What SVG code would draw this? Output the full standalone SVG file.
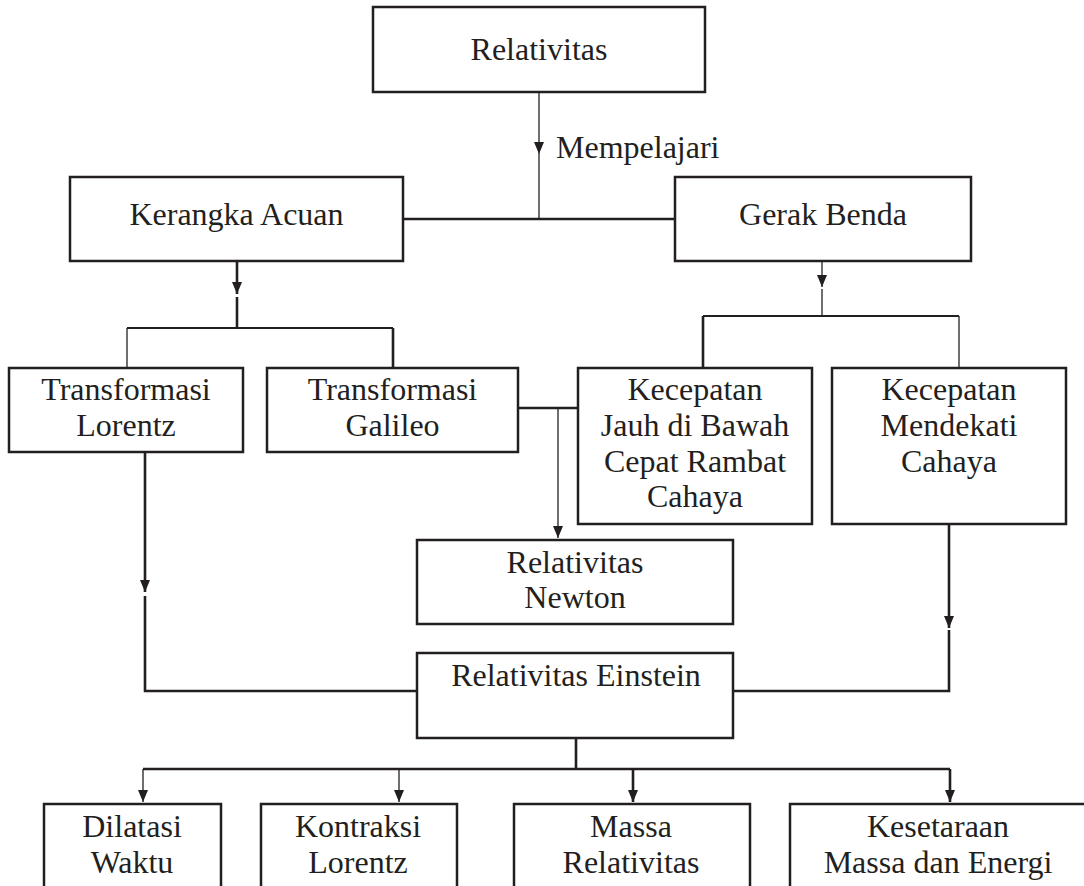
<svg xmlns="http://www.w3.org/2000/svg" width="1084" height="886" viewBox="0 0 1084 886">
<style>
  .box { fill: #ffffff; stroke: #231f20; stroke-width: 2.5; }
  .lbl { font-family: "Liberation Serif", "Times New Roman", serif; font-size: 32px; fill: #231f20; text-anchor: middle; }
  .cap { font-family: "Liberation Serif", "Times New Roman", serif; font-size: 32px; fill: #231f20; }
  .thin { fill: none; stroke: #231f20; stroke-width: 1.3; }
  .thick { fill: none; stroke: #231f20; stroke-width: 2.6; }
</style>
<defs>
  <marker id="arr" markerUnits="userSpaceOnUse" viewBox="0 0 12 10" refX="12" refY="5" markerWidth="12" markerHeight="10" orient="auto">
    <path d="M0,0 L12,5 L0,10 z" fill="#231f20"/>
  </marker>
</defs>
<rect width="1084" height="886" fill="#ffffff"/>

<g id="connectors">
  <!-- Relativitas to Kerangka/Gerak -->
  <path class="thin" d="M539,92 V154" marker-end="url(#arr)"/>
  <path class="thin" d="M539,154 V219"/>
  <text class="cap" x="556" y="158">Mempelajari</text>
  <path class="thick" d="M403,219 H675"/>
  <!-- Kerangka Acuan down -->
  <path class="thick" d="M237,261 V294" marker-end="url(#arr)"/>
  <path class="thick" d="M237,297 V328"/>
  <path class="thin" d="M127,328 H393" style="stroke-width:2"/>
  <path class="thin" d="M127,328 V368"/>
  <path class="thick" d="M393,328 V368"/>
  <!-- Gerak Benda down -->
  <path class="thin" d="M822,261 V287" marker-end="url(#arr)"/>
  <path class="thin" d="M822,289 V316"/>
  <path class="thick" d="M703,316 H959" style="stroke-width:2"/>
  <path class="thick" d="M703,316 V368"/>
  <path class="thin" d="M959,316 V368"/>
  <!-- Galileo to Kecepatan Jauh, to Newton -->
  <path class="thick" d="M518,408 H578"/>
  <path class="thin" d="M558,408 V538" marker-end="url(#arr)"/>
  <!-- Lorentz down to Einstein -->
  <path class="thick" d="M145,452 V592" marker-end="url(#arr)"/>
  <path class="thick" d="M145,596 V691 H417"/>
  <!-- Mendekati down to Einstein -->
  <path class="thick" d="M949,524 V628" marker-end="url(#arr)"/>
  <path class="thick" d="M949,630 V691 H733"/>
  <!-- Einstein down -->
  <path class="thick" d="M576,738 V769"/>
  <path class="thick" d="M143,769 H950"/>
  <path class="thin" d="M143,769 V802" marker-end="url(#arr)"/>
  <path class="thin" d="M399,769 V802" marker-end="url(#arr)"/>
  <path class="thick" d="M633,769 V802" marker-end="url(#arr)"/>
  <path class="thick" d="M950,769 V802" marker-end="url(#arr)"/>
</g>

<g id="relativitas">
  <rect class="box" x="373" y="7" width="332" height="85"/>
  <text class="lbl" x="539" y="60">Relativitas</text>
</g>
<g id="kerangka-acuan">
  <rect class="box" x="70" y="177" width="333" height="84"/>
  <text class="lbl" x="236.5" y="225">Kerangka Acuan</text>
</g>
<g id="gerak-benda">
  <rect class="box" x="675" y="177" width="296" height="84"/>
  <text class="lbl" x="823" y="225">Gerak Benda</text>
</g>
<g id="transformasi-lorentz">
  <rect class="box" x="9" y="368" width="234" height="84"/>
  <text class="lbl" x="126" y="400">Transformasi</text>
  <text class="lbl" x="126" y="436">Lorentz</text>
</g>
<g id="transformasi-galileo">
  <rect class="box" x="267" y="368" width="251" height="84"/>
  <text class="lbl" x="392.5" y="400">Transformasi</text>
  <text class="lbl" x="392.5" y="436">Galileo</text>
</g>
<g id="kecepatan-jauh">
  <rect class="box" x="578" y="368" width="234" height="156"/>
  <text class="lbl" x="695" y="400">Kecepatan</text>
  <text class="lbl" x="695" y="436">Jauh di Bawah</text>
  <text class="lbl" x="695" y="472">Cepat Rambat</text>
  <text class="lbl" x="695" y="507">Cahaya</text>
</g>
<g id="kecepatan-mendekati">
  <rect class="box" x="832" y="368" width="234" height="156"/>
  <text class="lbl" x="949" y="400">Kecepatan</text>
  <text class="lbl" x="949" y="436">Mendekati</text>
  <text class="lbl" x="949" y="472">Cahaya</text>
</g>
<g id="relativitas-newton">
  <rect class="box" x="417" y="540" width="316" height="84"/>
  <text class="lbl" x="575" y="573">Relativitas</text>
  <text class="lbl" x="575" y="608">Newton</text>
</g>
<g id="relativitas-einstein">
  <rect class="box" x="417" y="653" width="316" height="85"/>
  <text class="lbl" x="576" y="686">Relativitas Einstein</text>
</g>
<g id="dilatasi-waktu">
  <rect class="box" x="44" y="804" width="177" height="100"/>
  <text class="lbl" x="132" y="837">Dilatasi</text>
  <text class="lbl" x="132" y="873">Waktu</text>
</g>
<g id="kontraksi-lorentz">
  <rect class="box" x="261" y="804" width="196" height="100"/>
  <text class="lbl" x="358" y="837">Kontraksi</text>
  <text class="lbl" x="358" y="873">Lorentz</text>
</g>
<g id="massa-relativitas">
  <rect class="box" x="514" y="804" width="236" height="100"/>
  <text class="lbl" x="631" y="837">Massa</text>
  <text class="lbl" x="631" y="873">Relativitas</text>
</g>
<g id="kesetaraan">
  <rect class="box" x="790" y="804" width="300" height="100"/>
  <text class="lbl" x="938" y="837">Kesetaraan</text>
  <text class="lbl" x="938" y="873">Massa dan Energi</text>
</g>
</svg>
